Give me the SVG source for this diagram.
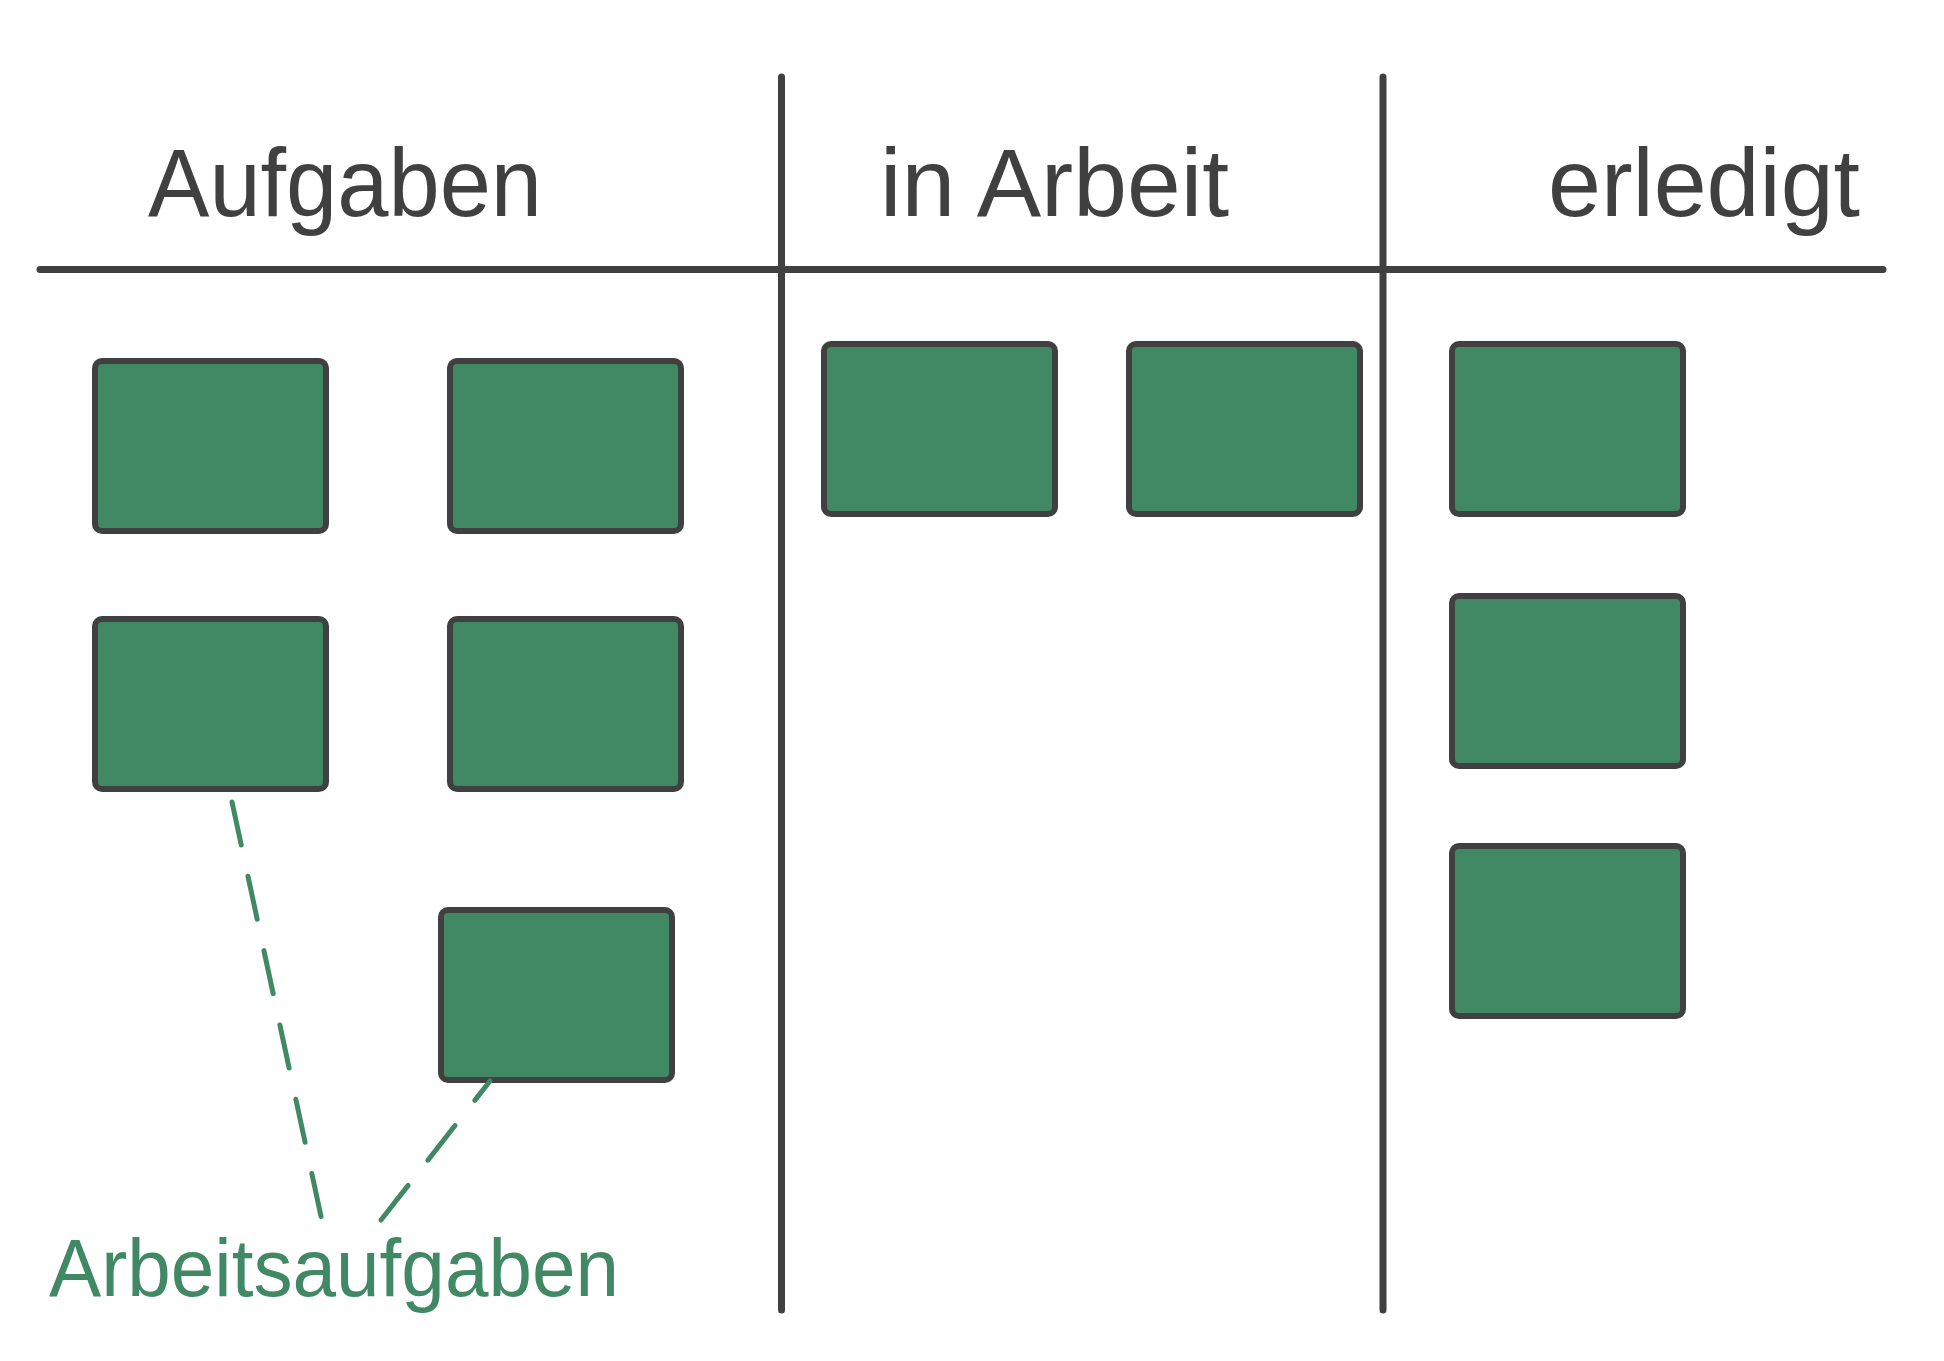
<svg xmlns="http://www.w3.org/2000/svg" width="1944" height="1361" viewBox="0 0 1944 1361">
<style>
.grid{stroke:#404040;stroke-width:7;stroke-linecap:round;fill:none}
.card{fill:#418864;stroke:#404040;stroke-width:6}
.head{font-family:"Liberation Sans",Arial,sans-serif;font-size:96px;fill:#404040}
.lbl{font-family:"Liberation Sans",Arial,sans-serif;font-size:81px;fill:#418864}
.dash{stroke:#418864;stroke-width:5;stroke-linecap:round;stroke-dasharray:44 32;fill:none}
</style>
<rect width="1944" height="1361" fill="#ffffff"/>
<g id="board">
<line class="grid" x1="40" y1="269.5" x2="1883" y2="269.5"/>
<line class="grid" x1="781.5" y1="77" x2="781.5" y2="1310"/>
<line class="grid" x1="1383" y1="77" x2="1383" y2="1310"/>
</g>
<g id="headers">
<text class="head" x="148" y="216" textLength="394" lengthAdjust="spacingAndGlyphs">Aufgaben</text>
<text class="head" x="880" y="216" textLength="349" lengthAdjust="spacingAndGlyphs">in Arbeit</text>
<text class="head" x="1548" y="216" textLength="312" lengthAdjust="spacingAndGlyphs">erledigt</text>
</g>
<g id="card-aufgaben-1"><rect class="card" x="95" y="361" width="231" height="170" rx="7"/></g>
<g id="card-aufgaben-2"><rect class="card" x="450" y="361" width="231" height="170" rx="7"/></g>
<g id="card-aufgaben-3"><rect class="card" x="95" y="619" width="231" height="170" rx="7"/></g>
<g id="card-aufgaben-4"><rect class="card" x="450" y="619" width="231" height="170" rx="7"/></g>
<g id="card-aufgaben-5"><rect class="card" x="441" y="910" width="231" height="170" rx="7"/></g>
<g id="card-arbeit-1"><rect class="card" x="824" y="344" width="231" height="170" rx="7"/></g>
<g id="card-arbeit-2"><rect class="card" x="1129" y="344" width="231" height="170" rx="7"/></g>
<g id="card-erledigt-1"><rect class="card" x="1452" y="344" width="231" height="170" rx="7"/></g>
<g id="card-erledigt-2"><rect class="card" x="1452" y="596" width="231" height="170" rx="7"/></g>
<g id="card-erledigt-3"><rect class="card" x="1452" y="846" width="231" height="170" rx="7"/></g>
<g id="connectors">
<line class="dash" x1="232" y1="802" x2="322" y2="1221"/>
<line class="dash" x1="381" y1="1220" x2="490" y2="1081"/>
</g>
<g id="label-arbeitsaufgaben">
<text class="lbl" x="49" y="1296" textLength="570" lengthAdjust="spacingAndGlyphs">Arbeitsaufgaben</text>
</g>
</svg>
